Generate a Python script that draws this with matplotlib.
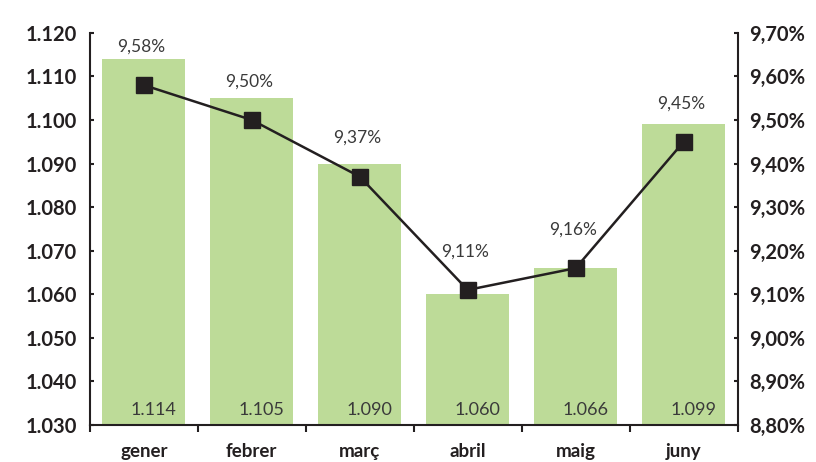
import matplotlib
matplotlib.use('Agg')
import matplotlib.pyplot as plt
import numpy as np

plt.rcParams['font.family'] = ['Lato', 'DejaVu Sans']

months = ['gener', 'febrer', 'març', 'abril', 'maig', 'juny']
bar_vals = [1.114, 1.105, 1.090, 1.060, 1.066, 1.099]
bar_labels = ['1.114', '1.105', '1.090', '1.060', '1.066', '1.099']
pct_vals = [9.58, 9.50, 9.37, 9.11, 9.16, 9.45]
pct_labels = ['9,58%', '9,50%', '9,37%', '9,11%', '9,16%', '9,45%']
left_ticks = [1.030, 1.040, 1.050, 1.060, 1.070, 1.080, 1.090, 1.100, 1.110, 1.120]
left_ticklabels = ['1.030', '1.040', '1.050', '1.060', '1.070', '1.080', '1.090', '1.100', '1.110', '1.120']
right_ticks = [8.8, 8.9, 9.0, 9.1, 9.2, 9.3, 9.4, 9.5, 9.6, 9.7]
right_ticklabels = ['8,80%', '8,90%', '9,00%', '9,10%', '9,20%', '9,30%', '9,40%', '9,50%', '9,60%', '9,70%']

fig = plt.figure(figsize=(8.16, 4.62), dpi=100)
ax = fig.add_axes([0.110, 0.080, 0.794, 0.849])
x = np.arange(len(months))

ax.bar(x, bar_vals, width=0.77, color='#bddb98', zorder=1)
ax.set_ylim(1.030, 1.120)
ax.set_xlim(-0.5, len(months) - 0.5)
ax.set_yticks(left_ticks)
ax.set_yticklabels(left_ticklabels, fontsize=14.5, fontweight='bold', color='#231f20')
ax.set_xticks(x)
ax.set_xticklabels(months, fontsize=13.5, fontweight='bold', color='#231f20')
ax.tick_params(axis='x', length=0, pad=13)
ax.set_xticks(np.arange(-0.5, len(months)), minor=True)
ax.tick_params(axis='x', which='minor', length=5, width=1.5, direction='out', color='#231f20')
ax.tick_params(axis='y', direction='in', length=3, width=1.5, color='#231f20', pad=9)
for s in ['top', 'right']:
    ax.spines[s].set_visible(False)
for s in ['left', 'bottom']:
    ax.spines[s].set_linewidth(1.5)
    ax.spines[s].set_color('#231f20')

for xi, v, lab in zip(x, bar_vals, bar_labels):
    ax.annotate(lab, (xi, 1.030), xytext=(7, 5), textcoords='offset points',
                ha='center', va='bottom', fontsize=13, color='#3a3a3a')

ax2 = ax.twinx()
ax2.plot(x, pct_vals, color='#231f20', lw=1.8, marker='s', markersize=12, zorder=3)
ax2.set_ylim(8.8, 9.7)
ax2.set_yticks(right_ticks)
ax2.set_yticklabels(right_ticklabels, fontsize=14.5, fontweight='bold', color='#231f20')
ax2.tick_params(axis='y', direction='in', length=3, width=1.5, color='#231f20', pad=8)
for s in ['top', 'left', 'bottom']:
    ax2.spines[s].set_visible(False)
ax2.spines['right'].set_linewidth(1.5)
ax2.spines['right'].set_color('#231f20')

for xi, v, lab in zip(x, pct_vals, pct_labels):
    ax2.annotate(lab, (xi, v), xytext=(-2, 22), textcoords='offset points',
                 ha='center', va='bottom', fontsize=12.5, color='#3a3a3a')

fig.savefig('out.png', dpi=100)
